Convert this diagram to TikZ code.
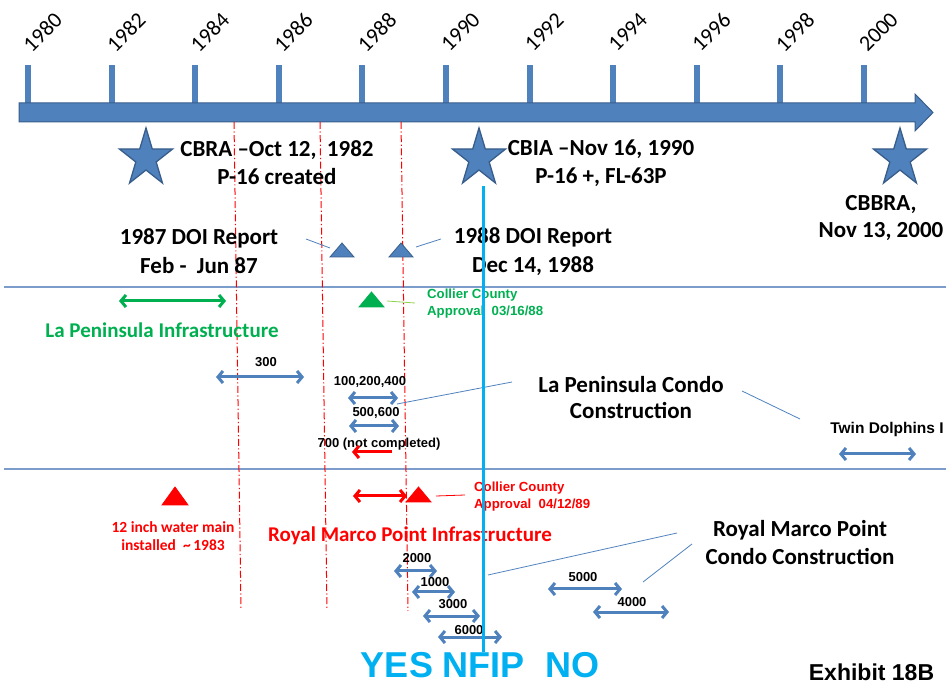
\documentclass[tikz,border=0pt]{standalone}
\usepackage{fontspec}
\setmainfont{Carlito}
\newfontfamily\arialfam{Liberation Sans}
\usetikzlibrary{arrows.meta}

\definecolor{axisblue}{HTML}{4F81BD}
\definecolor{axisedge}{HTML}{385D8A}
\definecolor{rulerblue}{HTML}{7C9CCB}
\definecolor{okgreen}{HTML}{00B050}
\definecolor{leafgreen}{HTML}{92D050}
\definecolor{nfipcyan}{HTML}{00B0F0}

% five-pointed event star: name, x, y
\newcommand{\eventstar}[3]{%
  \begin{scope}[shift={(#2,#3)}, yscale=1.086]
    \filldraw[starshape] (-90:28)
      \foreach \ang/\rad in {-54/10.7,-18/28,18/10.7,54/28,90/10.7,126/28,162/10.7,198/28,234/10.7}
        { -- (\ang:\rad) } -- cycle;
  \end{scope}
  \coordinate (#1) at (#2,#3);}

% triangle marker: name, x, base y, half width, height, fill colour, edge colour
\newcommand{\milestone}[7]{%
  \filldraw[fill=#6, draw=#7, line width=0.8pt]
    (#2-#4,#3) -- (#2+#4,#3) -- (#2,#3-#5) -- cycle;
  \coordinate (#1) at (#2,#3-#5/2);}

\begin{document}
\begin{tikzpicture}[x=1pt, y=-1pt,
  starshape/.style={fill=axisblue, draw=axisedge, line width=1.3pt},
  bigtext/.style={font=\fontsize{23}{28}\selectfont\bfseries, align=center, inner sep=0pt},
  infra/.style={font=\fontsize{21}{25}\selectfont\bfseries, align=center, inner sep=0pt},
  yearlabel/.style={font=\fontsize{22}{26}\selectfont, rotate=45, inner sep=0pt},
  tag/.style={font=\arialfam\fontsize{13}{16}\selectfont\bfseries, inner sep=0pt},
  approval/.style={font=\arialfam\fontsize{13.2}{17}\selectfont\bfseries, align=left, inner sep=0pt, anchor=west},
  barb/.tip={Straight Barb[length=5pt, width=12pt]},
  span/.style={line width=3pt, draw=axisblue, barb-barb},
  greenspan/.style={line width=3pt, draw=okgreen, barb-barb},
  redspan/.style={line width=3pt, draw=red, barb-barb},
  redback/.style={line width=3pt, draw=red, barb-},
  leader/.style={draw=axisblue, line width=0.8pt},
  refline/.style={draw=red, line width=1pt, dash pattern=on 7pt off 2.5pt on 1.2pt off 2.5pt},
  divider/.style={draw=rulerblue, line width=1.2pt},
  nfip/.style={draw=nfipcyan, line width=3pt}
]
\useasboundingbox (0,0) rectangle (946,684);

% ---------- time axis ----------
\foreach \i in {0,...,10} {
  \pgfmathsetmacro\xx{28+83.6*\i}
  \pgfmathtruncatemacro\yr{1980+2*\i}
  \fill[axisblue] (\xx-3,65) rectangle (\xx+3,103);
  \node[yearlabel] (year\yr) at (\xx+14.5,32) {\yr};
}
\filldraw[fill=axisblue, draw=axisedge, line width=1pt]
  (19,103) -- (915,103) -- (915,94) -- (933,112.5) -- (915,131) -- (915,122) -- (19,122) -- cycle;

% ---------- section dividers ----------
\coordinate (divAl) at (4,287);   \coordinate (divAr) at (946,287);
\coordinate (divBl) at (4,469);   \coordinate (divBr) at (946,469);
\draw[divider] (divAl) -- (divAr);
\draw[divider] (divBl) -- (divBr);

% ---------- reference dates (dash-dot) ----------
\coordinate (refAtop) at (234,122); \coordinate (refAbot) at (241,610);
\coordinate (refBtop) at (320,122); \coordinate (refBbot) at (327,610);
\coordinate (refCtop) at (401,122); \coordinate (refCbot) at (408,611);
\draw[refline] (refAtop) -- (refAbot);
\draw[refline] (refBtop) -- (refBbot);
\draw[refline] (refCtop) -- (refCbot);

% ---------- legislation ----------
\eventstar{cbrastar}{146}{158.4}
\eventstar{cbiastar}{479}{158.4}
\eventstar{cbbrastar}{900}{158.4}
\node[bigtext] (cbra)  at (277,163) {CBRA –Oct 12,~ 1982\\P-16 created};
\node[bigtext] (cbia)  at (601,163) {CBIA –Nov 16, 1990\\P-16 +, FL-63P};
\node[bigtext, font=\fontsize{23}{27}\selectfont\bfseries] (cbbra) at (881,218.5) {CBBRA,\\Nov 13, 2000};

% ---------- DOI reports ----------
\milestone{doiA}{342}{257}{12}{14}{axisblue}{axisedge}
\milestone{doiB}{401}{257}{12}{14}{axisblue}{axisedge}
\node[bigtext, font=\fontsize{23}{29}\selectfont\bfseries] (doiAtext) at (199,251.5) {1987 DOI Report\\Feb -~ Jun 87};
\node[bigtext, font=\fontsize{23}{29}\selectfont\bfseries] (doiBtext) at (533,251.5) {1988 DOI Report\\Dec 14, 1988};
\coordinate (doiAlead) at (306,239); \coordinate (doiAend) at (330,248);
\coordinate (doiBlead) at (441,239); \coordinate (doiBend) at (416,247);
\draw[leader] (doiAlead) -- (doiAend);
\draw[leader] (doiBlead) -- (doiBend);

% ---------- La Peninsula ----------
\coordinate (lpiA) at (119,301); \coordinate (lpiB) at (226,301);
\draw[greenspan] (lpiA) -- (lpiB);
\node[infra, text=okgreen] (lpinfra) at (162,330) {La Peninsula Infrastructure};
\milestone{lpok}{371.5}{307}{12.5}{15}{okgreen}{okgreen}
\node[approval, text=okgreen] (lpapproval) at (427,303.5) {Collier County\\Approval~ 03/16/88};
\coordinate (lpokA) at (387,301); \coordinate (lpokB) at (415,303);
\draw[draw=leafgreen, line width=0.8pt] (lpokA) -- (lpokB);

\foreach \nm/\xa/\xb/\yy/\lx/\ly/\txt in {
    b300/216/304/377/266/362/300,
    b100/348/398/398/370/382/{100,200,400},
    b500/349/399/426/376/413/{500,600}} {
  \coordinate (\nm L) at (\xa,\yy);
  \coordinate (\nm R) at (\xb,\yy);
  \draw[span] (\nm L) -- (\nm R);
  \node[tag] (\nm text) at (\lx,\ly) {\txt};
}
\coordinate (twinL) at (839,454); \coordinate (twinR) at (916,454);
\draw[span] (twinL) -- (twinR);
\node[tag, font=\arialfam\fontsize{15.5}{18}\selectfont\bfseries] (twinlabel) at (887,429) {Twin Dolphins I};
\node[tag] (b700text) at (379,444) {700 (not completed)};
\coordinate (b700R) at (392,452); \coordinate (b700L) at (352,452);
\draw[redback] (b700L) -- (b700R);

\node[bigtext, font=\fontsize{23}{26}\selectfont\bfseries] (lpcondo) at (631,398) {La Peninsula Condo\\Construction};
\coordinate (lpcA) at (397,404); \coordinate (lpcAe) at (512,382);
\coordinate (lpcB) at (742,391); \coordinate (lpcBe) at (800,419);
\draw[leader] (lpcA) -- (lpcAe);
\draw[leader] (lpcB) -- (lpcBe);

% ---------- Royal Marco Point ----------
\milestone{mainline}{175}{505}{13}{18}{red}{red}
\node[infra, font=\fontsize{15.5}{18.5}\selectfont\bfseries, text=red] (maintext) at (173,536) {12 inch water main\\installed~ \textasciitilde\,1983};
\coordinate (rmiA) at (353,496); \coordinate (rmiB) at (407,496);
\draw[redspan] (rmiA) -- (rmiB);
\milestone{rmok}{418.5}{502}{12.5}{15}{red}{red}
\coordinate (rmokA) at (436,496); \coordinate (rmokB) at (465,495);
\draw[draw=red, line width=0.8pt] (rmokA) -- (rmokB);
\node[approval, text=red] (rmapproval) at (474,497) {Collier County\\Approval~ 04/12/89};
\node[infra, text=red] (rminfra) at (410,536) {Royal Marco Point Infrastructure};

\foreach \nm/\xa/\xb/\yy/\lx/\ly/\txt in {
    c2000/394/437/571/417/558/2000,
    c1000/412/455/592/435/582/1000,
    c3000/423/480/616/453/604/3000,
    c6000/438/502/637/469/630/6000,
    c5000/548/622/589/583/577/5000,
    c4000/593/669/612/632/602/4000} {
  \coordinate (\nm L) at (\xa,\yy);
  \coordinate (\nm R) at (\xb,\yy);
  \draw[span] (\nm L) -- (\nm R);
  \node[tag] (\nm text) at (\lx,\ly) {\txt};
}

\node[bigtext] (rmcondo) at (800,543) {Royal Marco Point\\Condo Construction};
\coordinate (rmcA) at (488,575); \coordinate (rmcAe) at (677,533);
\coordinate (rmcB) at (643,582); \coordinate (rmcBe) at (692,544);
\draw[leader] (rmcA) -- (rmcAe);
\draw[leader] (rmcB) -- (rmcBe);

% ---------- NFIP boundary ----------
\node[font=\arialfam\fontsize{36}{40}\selectfont\bfseries, text=nfipcyan, inner sep=0pt] (nfipword) at (480,665) {YES NFIP~ NO};
\coordinate (nfiptop) at (483,186);
\draw[nfip] (nfiptop) -- (nfiptop |- nfipword.north);

\node[font=\arialfam\fontsize{23}{26}\selectfont\bfseries, inner sep=0pt] (exhibit) at (871.5,672) {Exhibit 18B};
\end{tikzpicture}
\end{document}
